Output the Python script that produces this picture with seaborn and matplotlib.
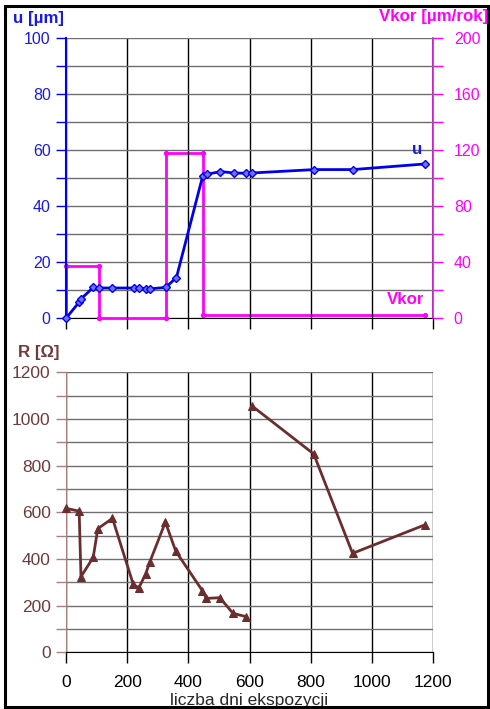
import numpy as np
import pandas as pd
import seaborn as sns
import matplotlib
matplotlib.use("Agg")
import matplotlib.pyplot as plt
from matplotlib.ticker import MultipleLocator
from matplotlib.patches import Rectangle

# ---- data ----
u_days = [0, 44, 49, 89, 107, 152, 222, 239, 261, 274, 326, 361, 447, 460, 505, 548, 588, 609, 812, 938, 1173]
u_vals = [0, 5.9, 6.9, 11.0, 10.8, 10.8, 10.8, 10.8, 10.6, 10.5, 11.0, 14.5, 50.7, 51.3, 52.3, 51.8, 51.7, 51.8, 53.0, 53.0, 55.0]

vkor_days = [0, 0, 107, 107, 326, 326, 449, 449, 1173]
vkor_vals = [0, 37, 37, 0, 0, 118, 118, 2.4, 2.4]

r_days = [0, 43, 49, 89, 104, 152, 220, 238, 260, 274, 325, 359, 446, 459, 503, 546, 588, 608, 810, 937, 1173]
r_vals = [617, 605, 324, 407, 530, 574, 291, 276, 334, 387, 558, 433, 264, 231, 234, 167, 153, 1056, 850, 424, 546]
r_segment = [0] * 17 + [1] * 4

x_ticks = [0, 200, 400, 600, 800, 1000, 1200]

BLUE = "#0000EE"
BLUE_TXT = "#1A1AE6"
MAG = "#FF00FF"
BROWN = "#6B2E2E"
BROWN_TXT = "#6E3B3B"

sns.set_style("white")
plt.rcParams["font.family"] = ["Liberation Sans", "DejaVu Sans"]

fig = plt.figure(figsize=(4.9, 7.09), dpi=100)
W, H = 490, 709

def pos(l, r, t, b):
    return [l / W, 1 - b / H, (r - l) / W, (b - t) / H]

# figure border (drawn first, beneath everything)
fig.patches.append(Rectangle((5 / W, 1 - 707 / H), 483 / W, 701 / H, transform=fig.transFigure,
                             fill=False, edgecolor="black", lw=2.2, zorder=0))

# ---------------- top panel ----------------
ax1 = fig.add_axes(pos(66, 433, 37.7, 318.3))
ax2 = ax1.twinx()

df_u = pd.DataFrame({"day": u_days, "u": u_vals})
df_v = pd.DataFrame({"day": vkor_days, "v": vkor_vals})

sns.lineplot(data=df_v, x="day", y="v", ax=ax2, color=MAG, lw=2.0, sort=False,
             estimator=None, marker="o", markersize=3, markeredgecolor=MAG, clip_on=False,
             zorder=4)
sns.lineplot(data=df_u, x="day", y="u", ax=ax1, color=BLUE, lw=2.0, sort=False,
             estimator=None, marker="D", markersize=4.5, markerfacecolor="#7070FF",
             markeredgecolor=BLUE, markeredgewidth=1.0, zorder=5, clip_on=False)
ax1.set_zorder(ax2.get_zorder() + 1)
ax1.patch.set_visible(False)

ax1.set_xlim(0, 1200)
ax1.set_ylim(0, 100)
ax2.set_ylim(0, 200)
ax1.set_xticks(x_ticks)
ax1.set_xticklabels([])
ax1.yaxis.set_major_locator(MultipleLocator(20))
ax1.yaxis.set_minor_locator(MultipleLocator(10))
ax2.yaxis.set_major_locator(MultipleLocator(40))
ax2.yaxis.set_minor_locator(MultipleLocator(20))
ax1.grid(True, which="both", axis="y", color="#6f6f6f", lw=1.0)
ax1.grid(True, which="major", axis="x", color="black", lw=1.0)
ax1.set_axisbelow(True)
ax1.set_xlabel("")
ax1.set_ylabel("")
ax2.set_ylabel("")

for a in (ax1, ax2):
    for s in a.spines.values():
        s.set_visible(False)
ax1.spines["left"].set_visible(True)
ax1.spines["left"].set_color(BLUE)
ax1.spines["left"].set_linewidth(1.5)
ax2.spines["bottom"].set_visible(True)
ax2.spines["bottom"].set_color("black")
ax2.spines["bottom"].set_zorder(1)
ax2.spines["right"].set_visible(True)
ax2.spines["right"].set_color(MAG)
ax2.spines["right"].set_linewidth(1.2)

ax1.tick_params(axis="y", which="both", colors=BLUE, labelcolor=BLUE_TXT, labelsize=11.5,
                direction="out", length=7, width=1, left=True, pad=4)
ax1.tick_params(axis="x", which="major", direction="out", length=8, width=1, bottom=True,
                color="black")
ax2.tick_params(axis="y", which="both", colors=MAG, labelcolor=MAG, labelsize=11.5,
                direction="out", length=7, width=1, right=True, pad=8)

fig.text(13 / W, 1 - 18 / H, "u [µm]", color=BLUE_TXT, fontsize=12.2, fontweight="bold",
         ha="left", va="center")
fig.text(488 / W, 1 - 17 / H, "Vkor [µm/rok]", color=MAG, fontsize=12.2, fontweight="bold",
         ha="right", va="center")
fig.text(417 / W, 1 - 150 / H, "u", color=BLUE_TXT, fontsize=12.2, fontweight="bold",
         ha="center", va="center")
fig.text(406 / W, 1 - 300 / H, "Vkor", color=MAG, fontsize=12.2, fontweight="bold",
         ha="center", va="center")

# ---------------- bottom panel ----------------
ax3 = fig.add_axes(pos(66, 433, 372.3, 652.3))
df_r = pd.DataFrame({"day": r_days, "R": r_vals, "seg": r_segment})
sns.lineplot(data=df_r, x="day", y="R", units="seg", estimator=None, sort=False, ax=ax3,
             color=BROWN, lw=2.0, marker="^", markersize=5.5, markeredgecolor=BROWN,
             markerfacecolor=BROWN, zorder=5, clip_on=False)
ax3.set_xlim(0, 1200)
ax3.set_ylim(0, 1200)
ax3.set_xticks(x_ticks)
ax3.yaxis.set_major_locator(MultipleLocator(200))
ax3.yaxis.set_minor_locator(MultipleLocator(100))
ax3.grid(True, which="both", axis="y", color="#6f6f6f", lw=1.0)
ax3.grid(True, which="major", axis="x", color="black", lw=1.0)
ax3.set_axisbelow(True)
for s in ax3.spines.values():
    s.set_visible(False)
ax3.spines["left"].set_visible(True)
ax3.spines["left"].set_color("#A88080")
ax3.spines["bottom"].set_visible(True)
ax3.spines["bottom"].set_color("black")
ax3.tick_params(axis="y", which="both", colors="#A88080", labelcolor=BROWN_TXT, labelsize=12.5,
                direction="out", length=7, width=1, left=True, pad=4)
ax3.tick_params(axis="x", which="major", colors="black", labelcolor="black", labelsize=12.5,
                direction="out", length=8, width=1, bottom=True, pad=8.5)
ax3.set_ylabel("")
ax3.set_xlabel("liczba dni ekspozycji", fontsize=12.5, labelpad=2)

fig.text(18 / W, 1 - 353 / H, "R [Ω]", color=BROWN_TXT, fontsize=12.2, fontweight="bold",
         ha="left", va="center")

fig.savefig("out.png", dpi=100)
